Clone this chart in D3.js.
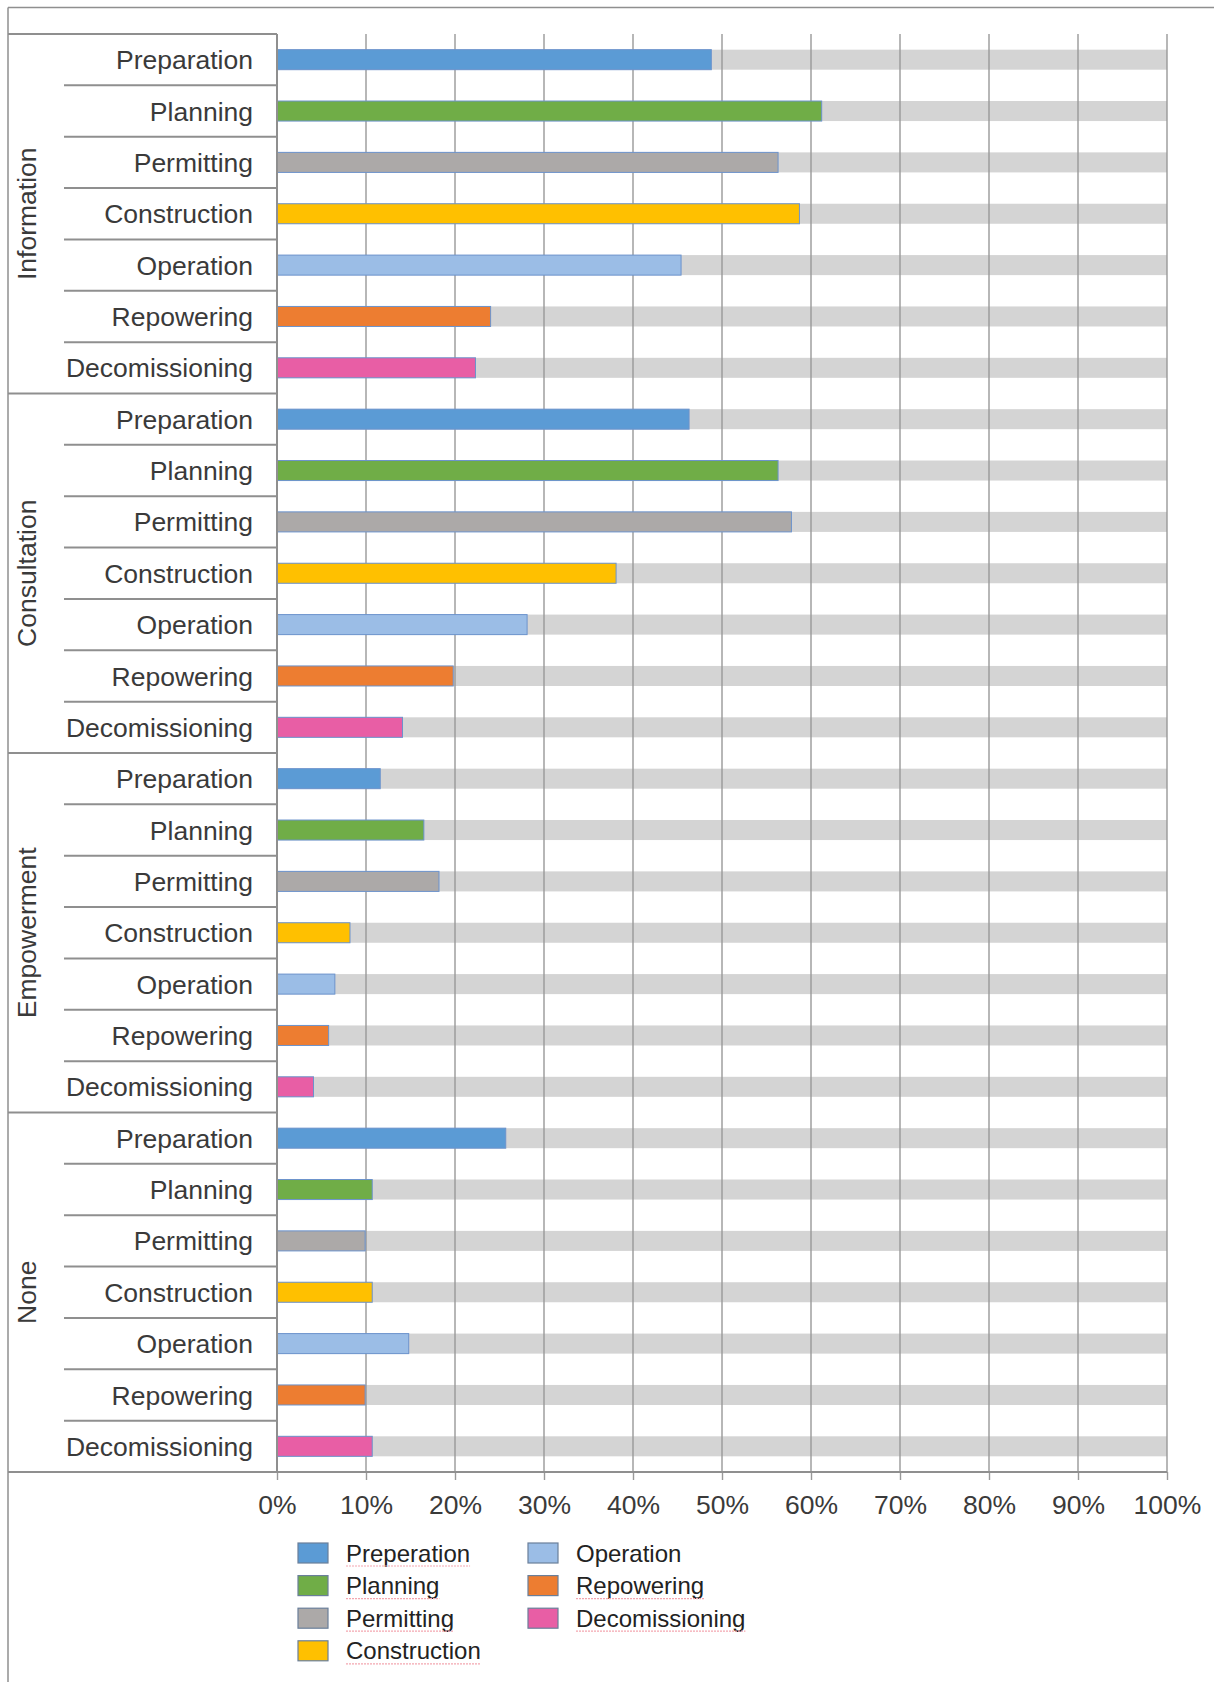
<!DOCTYPE html>
<html>
<head>
<meta charset="utf-8">
<script src="https://cdn.jsdelivr.net/npm/d3@7"></script>
<style>
  body { margin: 0; background: #fff; }
  svg { display: block; font-family: "Liberation Sans", Arial, sans-serif; }
</style>
</head>
<body>
<script>
// groups and stages (rows of the table)
var groups = ["Information", "Consultation", "Empowerment", "None"];
var stages = ["Preparation", "Planning", "Permitting", "Construction", "Operation", "Repowering", "Decomissioning"];
var legendLabels = ["Preperation", "Planning", "Permitting", "Construction", "Operation", "Repowering", "Decomissioning"];
var stageColors = ["#5b9bd5", "#70ad47", "#aca9a8", "#ffc000", "#9bbde6", "#ed7d31", "#e85ea5"];

// percent of respondents, per group, in stage order
var information  = [48.8, 61.2, 56.3, 58.7, 45.4, 24.0, 22.3];
var consultation = [46.3, 56.3, 57.8, 38.1, 28.1, 19.8, 14.1];
var empowerment  = [11.6, 16.5, 18.2, 8.2, 6.5, 5.8, 4.1];
var none         = [25.7, 10.7, 9.9, 10.7, 14.8, 9.9, 10.7];
var xTicks = [0, 10, 20, 30, 40, 50, 60, 70, 80, 90, 100];

var groupValues = [information, consultation, empowerment, none];

var rows = [];
groups.forEach(function(g, gi) {
  stages.forEach(function(s, si) {
    rows.push({ group: g, stage: s, si: si, key: g + "|" + s, value: groupValues[gi][si] });
  });
});

var W = 1214, H = 1682;
var plotL = 277, plotR = 1167, plotT = 34, plotB = 1472;
var frameX = 8, frameY = 7.5, subX = 64;
var lineColor = "#8f8f8f";
var textColor = "#3a3a3a";

var svg = d3.select("body").append("svg")
  .attr("width", W)
  .attr("height", H);

svg.append("rect").attr("width", W).attr("height", H).attr("fill", "#fff");

var x = d3.scaleLinear().domain([0, 100]).range([plotL, plotR]);
var y = d3.scaleBand()
  .domain(rows.map(function(d) { return d.key; }))
  .range([plotT, plotB])
  .paddingInner(0.61)
  .paddingOuter(0.305);
var step = y.step();

// outer frame (left + top)
svg.append("line").attr("x1", frameX).attr("x2", W).attr("y1", frameY).attr("y2", frameY)
  .attr("stroke", lineColor).attr("stroke-width", 1.5);
svg.append("line").attr("x1", frameX).attr("x2", frameX).attr("y1", frameY).attr("y2", H)
  .attr("stroke", lineColor).attr("stroke-width", 1.5);

// grey background bars (full 100%)
svg.selectAll("rect.bg")
  .data(rows)
  .enter()
  .append("rect")
  .attr("class", "bg")
  .attr("x", x(0))
  .attr("y", function(d) { return y(d.key); })
  .attr("width", x(100) - x(0))
  .attr("height", y.bandwidth())
  .attr("fill", "#d4d4d4");

// vertical gridlines
svg.selectAll("line.grid")
  .data(xTicks)
  .enter()
  .append("line")
  .attr("class", "grid")
  .attr("x1", function(d) { return x(d); })
  .attr("x2", function(d) { return x(d); })
  .attr("y1", plotT)
  .attr("y2", plotB)
  .attr("stroke", "#999")
  .attr("stroke-width", 1.4);

// coloured bars
svg.selectAll("rect.bar")
  .data(rows)
  .enter()
  .append("rect")
  .attr("class", "bar")
  .attr("x", x(0))
  .attr("y", function(d) { return y(d.key); })
  .attr("width", function(d) { return x(d.value) - x(0); })
  .attr("height", y.bandwidth())
  .attr("fill", function(d) { return stageColors[d.si]; })
  .attr("stroke", "#6c93cc")
  .attr("stroke-width", 1);

// bottom axis
var xAxis = d3.axisBottom(x)
  .tickValues(xTicks)
  .tickFormat(function(d) { return d + "%"; })
  .tickSize(8)
  .tickSizeOuter(0)
  .tickPadding(15);

var axisG = svg.append("g")
  .attr("transform", "translate(0," + plotB + ")")
  .call(xAxis);
axisG.select(".domain").remove();
axisG.selectAll(".tick line").attr("stroke", "#999").attr("stroke-width", 1.4);
axisG.selectAll(".tick text")
  .attr("fill", textColor)
  .style("font-size", "26.5px")
  .style("font-family", "'Liberation Sans', Arial, sans-serif");

// table lines
var tbl = svg.append("g").attr("stroke", lineColor).attr("stroke-width", 2);
tbl.append("line").attr("x1", frameX).attr("x2", plotL).attr("y1", plotT).attr("y2", plotT);
tbl.append("line").attr("x1", frameX).attr("x2", plotR).attr("y1", plotB).attr("y2", plotB);
tbl.append("line").attr("x1", plotL).attr("x2", plotL).attr("y1", plotT).attr("y2", plotB);

// separators between rows inside groups and between groups
rows.forEach(function(d, i) {
  if (i === 0) return;
  var yy = y(d.key) - y.paddingInner() * step / 2;
  tbl.append("line")
    .attr("x1", d.si === 0 ? frameX : subX)
    .attr("x2", plotL)
    .attr("y1", yy)
    .attr("y2", yy);
});

// row labels
svg.selectAll("text.stage")
  .data(rows)
  .enter()
  .append("text")
  .attr("class", "stage")
  .attr("x", plotL - 24)
  .attr("y", function(d) { return y(d.key) + y.bandwidth() / 2; })
  .attr("dy", "0.36em")
  .attr("text-anchor", "end")
  .attr("fill", textColor)
  .style("font-size", "26.5px")
  .text(function(d) { return d.stage; });

// group labels (rotated)
svg.selectAll("text.group")
  .data(groups)
  .enter()
  .append("text")
  .attr("class", "group")
  .attr("transform", function(g, gi) {
    var cy = plotT + step * stages.length * (gi + 0.5);
    return "translate(26," + cy + ") rotate(-90)";
  })
  .attr("dy", "0.36em")
  .attr("text-anchor", "middle")
  .attr("fill", textColor)
  .style("font-size", "26.5px")
  .text(function(g) { return g; });

// legend
var legend = svg.append("g");
var legItems = legendLabels.map(function(l, i) {
  var col = i < 4 ? 0 : 1;
  var row = i < 4 ? i : i - 4;
  return { label: l, color: stageColors[i], col: col, row: row };
});
var leg = legend.selectAll("g")
  .data(legItems)
  .enter()
  .append("g")
  .attr("transform", function(d) {
    return "translate(" + (d.col === 0 ? 298 : 528) + "," + (1553 + d.row * 32.6) + ")";
  });
leg.append("rect")
  .attr("x", 0)
  .attr("y", -10)
  .attr("width", 30)
  .attr("height", 20)
  .attr("fill", function(d) { return d.color; })
  .attr("stroke", "#6a7f9a")
  .attr("stroke-width", 1.2);
leg.append("text")
  .attr("x", 48)
  .attr("dy", "0.36em")
  .attr("fill", "#222")
  .style("font-size", "24px")
  .text(function(d) { return d.label; })
  .each(function(d) {
    // spell-check underline seen in the source screenshot
    if (d.label === "Operation") return;
    var w = this.getComputedTextLength();
    d3.select(this.parentNode).append("line")
      .attr("x1", 48).attr("x2", 48 + w)
      .attr("y1", 13).attr("y2", 13)
      .attr("stroke", "#f3a6b0")
      .attr("stroke-width", 1.2)
      .attr("stroke-dasharray", "2,1");
  });
</script>
</body>
</html>
